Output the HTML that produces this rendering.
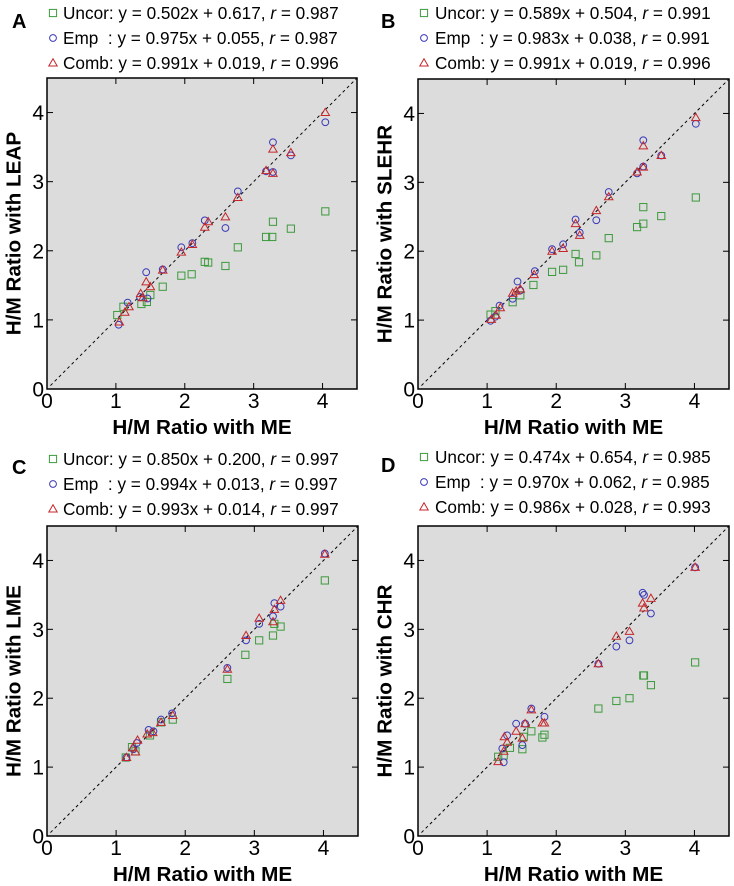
<!DOCTYPE html>
<html><head><meta charset="utf-8"><style>
body{margin:0;background:#fff;}
svg{display:block;font-family:"Liberation Sans",sans-serif;}
text{white-space:pre;}
</style></head><body>
<svg id="chart" width="734" height="886"></svg>
<script>
const panelLetters = ["A","B","C","D"];
const yTitles = ["H/M Ratio with LEAP","H/M Ratio with SLEHR","H/M Ratio with LME","H/M Ratio with CHR"];
const legendUncor = ["Uncor: y = 0.502x + 0.617, ","Uncor: y = 0.589x + 0.504, ","Uncor: y = 0.850x + 0.200, ","Uncor: y = 0.474x + 0.654, "];
const legendEmp = ["Emp  : y = 0.975x + 0.055, ","Emp  : y = 0.983x + 0.038, ","Emp  : y = 0.994x + 0.013, ","Emp  : y = 0.970x + 0.062, "];
const legendComb = ["Comb: y = 0.991x + 0.019, ","Comb: y = 0.991x + 0.019, ","Comb: y = 0.993x + 0.014, ","Comb: y = 0.986x + 0.028, "];
const rUncor = ["0.987","0.991","0.997","0.985"];
const rEmp = ["0.987","0.991","0.997","0.985"];
const rComb = ["0.996","0.996","0.997","0.993"];
const ticks = [0,1,2,3,4];

const uncorA = [[1.02,1.07],[1.11,1.19],[1.37,1.23],[1.45,1.26],[1.5,1.36],[1.68,1.48],[1.95,1.64],[2.1,1.66],[2.29,1.84],[2.34,1.83],[2.59,1.78],[2.77,2.05],[3.18,2.2],[3.27,2.2],[3.28,2.42],[3.54,2.32],[4.04,2.57]];
const empA = [[1.04,0.93],[1.17,1.25],[1.35,1.33],[1.44,1.69],[1.46,1.31],[1.68,1.73],[1.95,2.05],[2.11,2.11],[2.29,2.44],[2.59,2.33],[2.77,2.86],[3.18,3.15],[3.28,3.57],[3.28,3.14],[3.54,3.38],[4.04,3.86]];
const combA = [[1.05,0.97],[1.13,1.11],[1.19,1.19],[1.36,1.38],[1.39,1.32],[1.44,1.55],[1.5,1.48],[1.68,1.72],[1.95,1.98],[2.11,2.09],[2.29,2.34],[2.34,2.42],[2.59,2.49],[2.77,2.77],[3.18,3.16],[3.28,3.47],[3.28,3.12],[3.54,3.42],[4.04,4.0]];

const uncorB = [[1.05,1.08],[1.12,1.13],[1.37,1.26],[1.48,1.36],[1.67,1.51],[1.94,1.7],[2.1,1.73],[2.28,1.96],[2.33,1.84],[2.58,1.94],[2.76,2.19],[3.17,2.35],[3.26,2.4],[3.26,2.64],[3.52,2.51],[4.02,2.78]];
const empB = [[1.05,0.99],[1.12,1.05],[1.18,1.21],[1.37,1.31],[1.44,1.56],[1.48,1.43],[1.69,1.71],[1.94,2.03],[2.1,2.1],[2.28,2.46],[2.34,2.27],[2.58,2.45],[2.76,2.86],[3.17,3.13],[3.26,3.61],[3.26,3.23],[3.52,3.39],[4.02,3.85]];
const combB = [[1.06,1.01],[1.13,1.07],[1.19,1.18],[1.37,1.39],[1.42,1.42],[1.48,1.45],[1.68,1.66],[1.94,2.0],[2.1,2.04],[2.28,2.4],[2.34,2.23],[2.58,2.59],[2.76,2.79],[3.17,3.15],[3.26,3.53],[3.26,3.22],[3.52,3.39],[4.02,3.94]];

const uncorC = [[1.14,1.14],[1.23,1.29],[1.28,1.23],[1.49,1.46],[1.65,1.65],[1.82,1.69],[2.61,2.28],[2.87,2.63],[3.07,2.84],[3.27,2.91],[3.29,3.08],[3.38,3.04],[4.02,3.71]];
const empC = [[1.15,1.14],[1.25,1.26],[1.3,1.35],[1.47,1.54],[1.54,1.52],[1.65,1.69],[1.81,1.78],[2.61,2.44],[2.88,2.84],[3.07,3.08],[3.27,3.19],[3.29,3.38],[3.38,3.33],[4.02,4.1]];
const combC = [[1.15,1.14],[1.24,1.28],[1.28,1.22],[1.31,1.39],[1.45,1.48],[1.53,1.5],[1.65,1.65],[1.82,1.75],[2.61,2.42],[2.88,2.91],[3.07,3.16],[3.27,3.11],[3.29,3.29],[3.38,3.42],[4.02,4.09]];

const uncorD = [[1.16,1.15],[1.24,1.17],[1.33,1.28],[1.51,1.26],[1.53,1.44],[1.64,1.52],[1.8,1.43],[1.83,1.47],[2.61,1.85],[2.87,1.96],[3.06,2.0],[3.26,2.33],[3.27,2.33],[3.37,2.19],[4.01,2.52]];
const empD = [[1.24,1.07],[1.22,1.27],[1.29,1.46],[1.42,1.63],[1.51,1.32],[1.55,1.63],[1.64,1.85],[1.83,1.73],[2.61,2.5],[2.87,2.75],[3.06,2.84],[3.25,3.53],[3.27,3.5],[3.37,3.23],[4.01,3.9]];
const combD = [[1.16,1.08],[1.24,1.23],[1.25,1.44],[1.29,1.36],[1.42,1.52],[1.51,1.42],[1.55,1.63],[1.64,1.83],[1.8,1.64],[1.83,1.64],[2.61,2.5],[2.87,2.9],[3.06,2.97],[3.25,3.38],[3.27,3.31],[3.37,3.45],[4.01,3.9]];

const uncorAll = [uncorA,uncorB,uncorC,uncorD];
const empAll = [empA,empB,empC,empD];
const combAll = [combA,combB,combC,combD];

const NS = "http://www.w3.org/2000/svg";
const svg = document.getElementById("chart");
function mk(tag, attrs, parent, text){
  const e = document.createElementNS(NS, tag);
  for (const k in attrs) e.setAttribute(k, attrs[k]);
  if (text !== undefined) e.textContent = text;
  parent.appendChild(e);
  return e;
}
const boxes = [
  {x:47, y:78, w:310, h:311, lx:12, mx:53, tx:63, ly:0},
  {x:418, y:79, w:311, h:310, lx:381, mx:424, tx:435, ly:0},
  {x:47, y:526, w:311, h:310, lx:12, mx:53, tx:63, ly:446},
  {x:418, y:526, w:311, h:310, lx:381, mx:424, tx:435, ly:444}
];
const GREEN="#3c9a3c", BLUE="#3a3ab8", RED="#c4262a";
function square(g,cx,cy){ const e=mk("rect",{x:cx-3.6,y:cy-3.6,width:7.2,height:7.2,fill:"none",stroke:GREEN,"stroke-width":1},g);
  
   return e;}
function circle(g,cx,cy){ const e=mk("circle",{cx:cx,cy:cy,r:3.4,fill:"none",stroke:BLUE,"stroke-width":1},g);
  
   return e;}
function tri(g,cx,cy){ const e=mk("polygon",{points:`${cx},${cy-4.2} ${cx+4.2},${cy+3} ${cx-4.2},${cy+3}`,fill:"none",stroke:RED,"stroke-width":1},g);
  
   return e;}

boxes.forEach((b,i)=>{
  const g = mk("g",{},svg);
  
  
  const sx = v => b.x + v/4.5*b.w;
  const sy = v => b.y + b.h - v/4.5*b.h;
  const pl = mk("text",{x:b.lx,y:28+b.ly,"font-size":20,"font-weight":"bold",fill:"#000"},g,panelLetters[i]);
  
  
  const leg = mk("g",{},g);
  
  
  const rows=[[legendUncor[i],rUncor[i],square],[legendEmp[i],rEmp[i],circle],[legendComb[i],rComb[i],tri]];
  rows.forEach((r,j)=>{
    const cy = 13 + j*25 + b.ly;
    const m = r[2](leg,b.mx,cy);
    
    const t = mk("text",{x:b.tx,y:cy+6,"font-size":17.2,fill:"#000"},leg);
    
    
    mk("tspan",{},t,r[0]);
    mk("tspan",{"font-style":"italic"},t,"r");
    mk("tspan",{},t," = "+r[1]);
  });
  const bg = mk("rect",{x:b.x,y:b.y,width:b.w,height:b.h,fill:"#dcdcdc",stroke:"none"},g);
  
  
  const dl = mk("line",{x1:sx(0.05),y1:sy(0.05),x2:sx(4.5),y2:sy(4.5),stroke:"#000","stroke-width":1,"stroke-dasharray":"3,3"},g);
  
  
  ticks.forEach(t=>{
    mk("line",{x1:sx(t),y1:b.y+b.h,x2:sx(t),y2:b.y+b.h-6,stroke:"#000"},g);
    mk("line",{x1:sx(t),y1:b.y,x2:sx(t),y2:b.y+6,stroke:"#000"},g);
    mk("line",{x1:b.x,y1:sy(t),x2:b.x+6,y2:sy(t),stroke:"#000"},g);
    mk("line",{x1:b.x+b.w,y1:sy(t),x2:b.x+b.w-6,y2:sy(t),stroke:"#000"},g);
    const xl = mk("text",{x:sx(t),y:b.y+b.h+19,"font-size":21,"text-anchor":"middle",fill:"#000"},g,String(t));
    
    
    const yl = mk("text",{x:b.x-3,y:sy(t)+7.5,"font-size":21,"text-anchor":"end",fill:"#000"},g,String(t));
    
    
  });
  uncorAll[i].forEach(p=>square(g,sx(p[0]),sy(p[1])));
  empAll[i].forEach(p=>circle(g,sx(p[0]),sy(p[1])));
  combAll[i].forEach(p=>tri(g,sx(p[0]),sy(p[1])));
  const fr = mk("rect",{x:b.x,y:b.y,width:b.w,height:b.h,fill:"none",stroke:"#000","stroke-width":1.5},g);
  
  
  const xt = mk("text",{x:b.x+b.w/2,y:b.y+b.h+45,"font-size":20.7,"font-weight":"bold","text-anchor":"middle",fill:"#000"},g,"H/M Ratio with ME");
  
  
  const yx = b.x-33, yy = b.y+b.h/2;
  const yt = mk("text",{x:yx,y:yy,"font-size":20.7,"font-weight":"bold","text-anchor":"middle","dominant-baseline":"central",transform:`rotate(-90 ${yx} ${yy})`,fill:"#000"},g,yTitles[i]);
  
  
});
</script>
</body></html>
